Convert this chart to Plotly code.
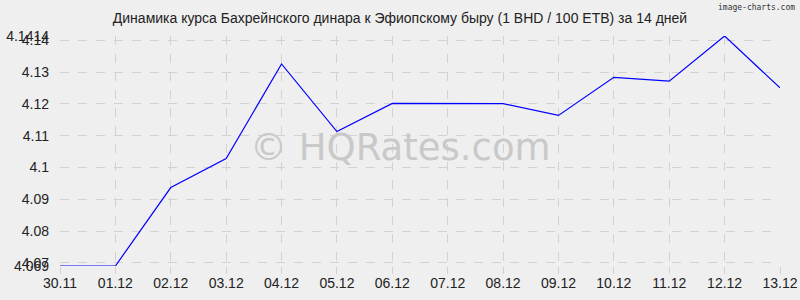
import plotly.graph_objects as go

dates = ["30.11", "01.12", "02.12", "03.12", "04.12", "05.12", "06.12",
         "07.12", "08.12", "09.12", "10.12", "11.12", "12.12", "13.12"]
rates = [4.069, 4.069, 4.0937, 4.1028, 4.1326, 4.1113, 4.1202,
         4.1201, 4.1201, 4.1164, 4.1284, 4.1272, 4.1414, 4.1251]
ytick_vals = [4.069, 4.07, 4.08, 4.09, 4.1, 4.11, 4.12, 4.13, 4.14, 4.1414]
ytick_text = ["4.069", "4.07", "4.08", "4.09", "4.1", "4.11", "4.12", "4.13", "4.14", "4.1414"]
title = "Динамика курса Бахрейнского динара к Эфиопскому быру (1 BHD / 100 ETB) за 14 дней"

bg = "#efefef"
grid = "#d2d2d2"
L, R, T, B = 60, 20, 36, 34
PW, PH = 800 - L - R, 300 - T - B

fig = go.Figure()
fig.add_trace(go.Scatter(x=list(range(len(dates))), y=rates, mode="lines",
                         line=dict(color="#0000ff", width=1.2), hoverinfo="skip"))

fig.update_layout(
    width=800, height=300,
    margin=dict(l=L, r=R, t=T, b=B, autoexpand=False),
    paper_bgcolor=bg, plot_bgcolor=bg,
    showlegend=False,
    font=dict(family="Liberation Sans, Arial, sans-serif", size=14, color="#222"),
    title=dict(text=title, x=0.5, xanchor="center", y=1 - 18 / 300, yanchor="middle",
               font=dict(size=14, color="#222")),
    xaxis=dict(range=[0, len(dates) - 1], tickmode="array",
               tickvals=list(range(len(dates))), ticktext=dates,
               showgrid=True, gridcolor=grid, griddash="dash", gridwidth=1,
               ticks="outside", ticklen=7, tickcolor=grid, automargin=False,
               ticklabelstandoff=-3,
               zeroline=False, showline=False, tickfont=dict(size=14, color="#222")),
    yaxis=dict(range=[4.069, 4.1414], tickmode="array",
               tickvals=ytick_vals, ticktext=ytick_text, automargin=False,
               showgrid=True, gridcolor=grid, griddash="dash", gridwidth=1,
               ticks="", ticklabelstandoff=10,
               zeroline=False, showline=False, tickfont=dict(size=14, color="#222")),
    annotations=[
        dict(text="© HQRates.com", x=(400 - L) / PW, y=(300 - B - 147) / PH,
             xref="paper", yref="paper",
             xanchor="center", yanchor="middle", showarrow=False,
             font=dict(family="DejaVu Sans, sans-serif", size=37, color="#c9c9c9")),
        dict(text="image-charts.com", x=(797 - L) / PW, y=1 + (T - 7) / PH,
             xref="paper", yref="paper",
             showarrow=False, xanchor="right", yanchor="middle",
             font=dict(family="DejaVu Sans Mono, monospace", size=8, color="#333")),
    ],
)

fig.write_html("out.html")
